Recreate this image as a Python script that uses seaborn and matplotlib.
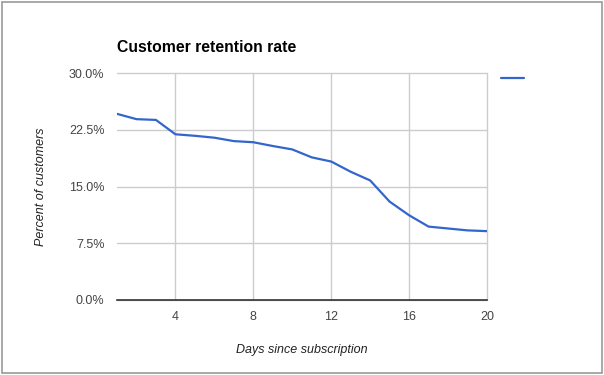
import numpy as np
import pandas as pd
import seaborn as sns
import matplotlib.pyplot as plt
from matplotlib.patches import Rectangle
from matplotlib.ticker import FuncFormatter

# Data
days = list(range(1, 21))
retention = [24.6, 23.9, 23.8, 21.9, 21.7, 21.45, 21.0, 20.85, 20.35, 19.9,
             18.85, 18.3, 16.95, 15.8, 13.0, 11.2, 9.7, 9.45, 9.2, 9.1]
x_ticks = [4, 8, 12, 16, 20]
y_ticks = [0, 7.5, 15, 22.5, 30]

df = pd.DataFrame({'day': days, 'retention': retention})

sns.set_theme(style='white')
plt.rcParams['font.family'] = ['Liberation Sans', 'DejaVu Sans']

fig = plt.figure(figsize=(6.04, 3.75), dpi=100)
ax = fig.add_axes([117 / 604, 1 - 300 / 375, 370 / 604, 227 / 375])

sns.lineplot(data=df, x='day', y='retention', ax=ax, color='#3366cc', linewidth=1.6)

ax.set_xlim(1, 20)
ax.set_ylim(0, 30)
ax.set_xticks(x_ticks)
ax.set_yticks(y_ticks)
ax.yaxis.set_major_formatter(FuncFormatter(lambda v, p: f'{v:.1f}%'))
ax.grid(True, color='#cccccc', linewidth=1)
ax.set_axisbelow(True)
for gl in ax.get_xgridlines() + ax.get_ygridlines():
    gl.set_clip_on(False)
for s in ['left', 'right', 'top']:
    ax.spines[s].set_visible(False)
ax.spines['bottom'].set_color('#333333')
ax.spines['bottom'].set_linewidth(1.2)
ax.tick_params(axis='both', length=0, labelsize=9, colors='#444444')
ax.tick_params(axis='y', pad=9)
ax.tick_params(axis='x', pad=8)

ax.set_xlabel('Days since subscription', fontsize=9, style='italic', color='#222222', labelpad=15)
ax.set_ylabel('Percent of customers', fontsize=9, style='italic', color='#222222', labelpad=16)

fig.text(117 / 604, 1 - 47 / 375, 'Customer retention rate', fontsize=11.3,
         fontweight='bold', color='black', va='center', ha='left')

# legend with an empty label, like the original
ax.legend(ax.lines[:1], [''], loc='center left', bbox_to_anchor=(488 / 604, 1 - 79 / 375),
          bbox_transform=fig.transFigure, frameon=False, fontsize=10,
          handlelength=1.7, handletextpad=0)

# thin gray frame around the whole picture
fig.patches.append(Rectangle((1.5 / 604, 2.5 / 375), 600.5 / 604, 371 / 375,
                             transform=fig.transFigure, fill=False,
                             edgecolor='#999999', linewidth=1.2))

fig.savefig('out.png', dpi=100)
